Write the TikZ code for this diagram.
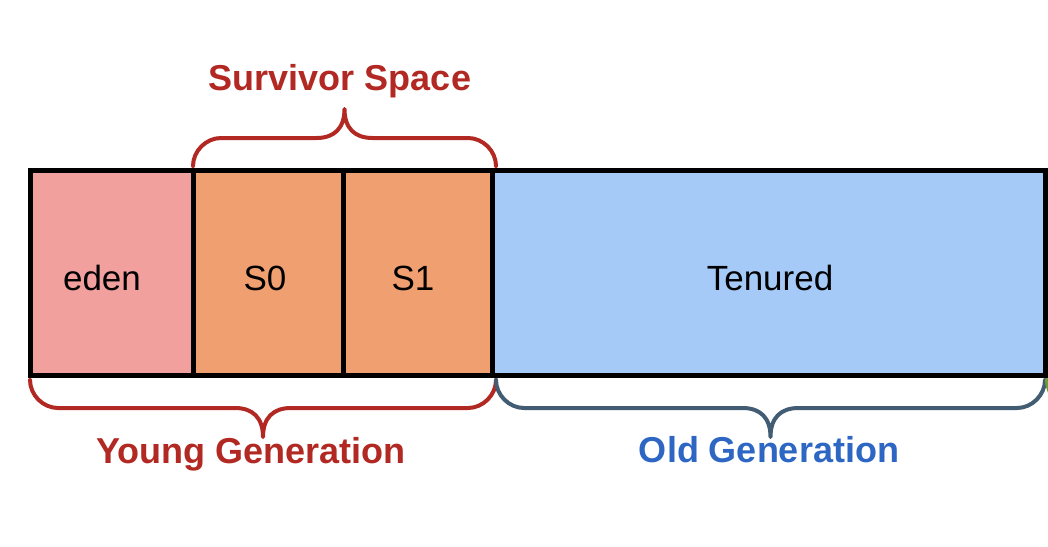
\documentclass[tikz,border=0pt]{standalone}
\usepackage{fontspec}
\setmainfont{Liberation Sans}
\usetikzlibrary{positioning}

\definecolor{edenfill}{RGB}{242,160,158}
\definecolor{survfill}{RGB}{240,160,112}
\definecolor{tenfill}{RGB}{166,202,247}
\definecolor{youngred}{RGB}{178,40,34}
\definecolor{oldblue}{RGB}{46,102,196}
\definecolor{oldbrace}{RGB}{66,92,116}
\definecolor{permgreen}{RGB}{110,160,50}

\tikzset{
  genbox/.style={draw=black,line width=5pt,minimum height=205pt,inner sep=0pt,
    font=\fontsize{35}{42}\selectfont},
  genlabel/.style={font=\bfseries\fontsize{36}{43}\selectfont,anchor=base},
  bracepath/.style={line width=4pt,line cap=round,line join=round}
}

% brace between two x values, y0 at the box, depth sign s (1 down, -1 up)
\newcommand{\gcbrace}[5]{%
  \draw[bracepath,#5] (#1,#3)
    .. controls (#1,#3+#4*15) and (#1+13,#3+#4*28) .. (#1+28,#3+#4*28)
    -- ({(#1+#2)/2-28},#3+#4*28)
    .. controls ({(#1+#2)/2-10},#3+#4*28) and ({(#1+#2)/2},#3+#4*38) .. ({(#1+#2)/2},#3+#4*57)
    .. controls ({(#1+#2)/2},#3+#4*38) and ({(#1+#2)/2+10},#3+#4*28) .. ({(#1+#2)/2+28},#3+#4*28)
    -- (#2-28,#3+#4*28)
    .. controls (#2-13,#3+#4*28) and (#2,#3+#4*15) .. (#2,#3);}

\begin{document}
\begin{tikzpicture}[x=1pt,y=-1pt]
\useasboundingbox[fill=white] (0,0) rectangle (1048,546);
\clip (0,0) rectangle (1048,546);

% heap blocks
\node[genbox,fill=edenfill,minimum width=163pt] (eden) at (111.5,272.5) {};
\node[genbox,fill=survfill,minimum width=150pt] (szero) at (268,272.5) {};
\node[genbox,fill=survfill,minimum width=149pt] (sone) at (417.5,272.5) {};
\node[genbox,fill=tenfill,minimum width=553pt] (tenured) at (768.5,272.5) {};

\node[font=\fontsize{35}{42}\selectfont] (edentxt) at (102,278) {eden};
\node[font=\fontsize{35}{42}\selectfont] (szerotxt) at (265,278) {S0};
\node[font=\fontsize{35}{42}\selectfont] (sonetxt) at (413,278) {S1};
\node[font=\fontsize{35}{42}\selectfont] (tenuredtxt) at (770,278) {Tenured};

% braces
\gcbrace{193}{496}{166}{-1}{youngred}
\gcbrace{30}{496}{380}{1}{youngred}
\gcbrace{496}{1045}{380}{1}{oldbrace}
\gcbrace{1047}{1500}{380}{1}{permgreen}

\node[genlabel,text=youngred] (survlbl) at (340,90) {Survivor Space};
\node[genlabel,text=youngred] (younglbl) at (251,463) {Young Generation};
\node[genlabel,text=oldblue] (oldlbl) at (769,462) {Old Generation};
\end{tikzpicture}
\end{document}
